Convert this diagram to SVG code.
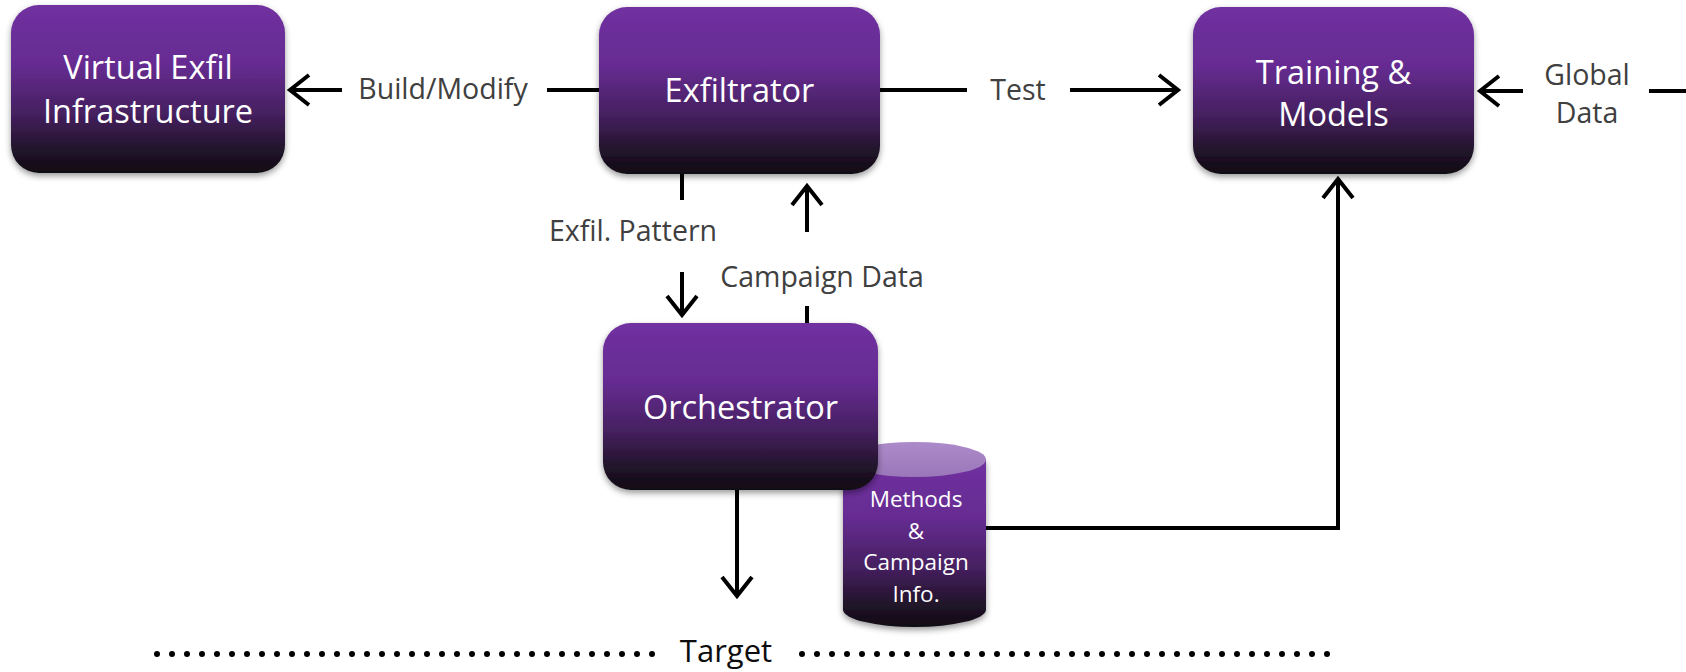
<svg xmlns="http://www.w3.org/2000/svg" width="1686" height="672" viewBox="0 0 1686 672">
  <defs>
    <linearGradient id="boxFill" x1="0" y1="0" x2="0" y2="1">
      <stop offset="0" stop-color="#7030a0"/>
      <stop offset="0.35" stop-color="#662c92"/>
      <stop offset="0.65" stop-color="#45205f"/>
      <stop offset="0.85" stop-color="#23142d"/>
      <stop offset="1" stop-color="#100c12"/>
    </linearGradient>
    <linearGradient id="capFill" x1="0" y1="0" x2="0" y2="1">
      <stop offset="0" stop-color="#ad8aca"/>
      <stop offset="1" stop-color="#9a77b8"/>
    </linearGradient>
    <filter id="shadow" x="-10%" y="-10%" width="120%" height="130%">
      <feDropShadow dx="0" dy="3" stdDeviation="3" flood-color="#000" flood-opacity="0.4"/>
    </filter>
    <marker id="chev" markerUnits="userSpaceOnUse" viewBox="-24 -18 28 36" markerWidth="28" markerHeight="36" refX="0" refY="0" orient="auto" overflow="visible">
      <path d="M -19 -15 L 0 0 L -19 15" fill="none" stroke="#000" stroke-width="4"/>
    </marker>
    <style>
      .box { fill: url(#boxFill); filter: url(#shadow); }
      .boxText { font-family: "Open Sans", "Liberation Sans", sans-serif; font-size: 32.5px; fill: #ffffff; text-anchor: middle; }
      .dbText { font-family: "Open Sans", "Liberation Sans", sans-serif; font-size: 22.5px; fill: #ffffff; text-anchor: middle; }
      .label { font-family: "Open Sans", "Liberation Sans", sans-serif; font-size: 28.5px; fill: #404040; text-anchor: middle; }
      .target { font-family: "Open Sans", "Liberation Sans", sans-serif; font-size: 31px; fill: #0d0d0d; text-anchor: middle; }
      .conn { fill: none; stroke: #000; stroke-width: 4; }
      .dots { fill: none; stroke: #000; stroke-width: 6; stroke-linecap: round; stroke-dasharray: 0 15; }
    </style>
  </defs>

  <!-- connectors -->
  <g id="connectors">
    <path class="conn" d="M 342 90 H 290" marker-end="url(#chev)"/>
    <path class="conn" d="M 547 90 H 599"/>
    <path class="conn" d="M 880 90 H 967"/>
    <path class="conn" d="M 1070 90 H 1178" marker-end="url(#chev)"/>
    <path class="conn" d="M 1523 91 H 1480" marker-end="url(#chev)"/>
    <path class="conn" d="M 1649 91 H 1686"/>
    <path class="conn" d="M 682 174 V 200"/>
    <path class="conn" d="M 682 272 V 315" marker-end="url(#chev)"/>
    <path class="conn" d="M 807 232 V 186" marker-end="url(#chev)"/>
    <path class="conn" d="M 807 306 V 323"/>
    <path class="conn" d="M 737 490 V 596" marker-end="url(#chev)"/>
    <path class="conn" d="M 986 528 H 1338 V 179" marker-end="url(#chev)"/>
  </g>

  <!-- connector labels -->
  <g id="labels">
    <text class="label" x="443" y="99">Build/Modify</text>
    <text class="label" x="1018" y="100">Test</text>
    <text class="label" x="1587" y="85">Global</text>
    <text class="label" x="1587" y="123">Data</text>
    <text class="label" x="633" y="241">Exfil. Pattern</text>
    <text class="label" x="822" y="287">Campaign Data</text>
  </g>

  <!-- target boundary -->
  <g id="target">
    <path class="dots" d="M 157 654 H 653"/>
    <path class="dots" d="M 802 654 H 1334"/>
    <text class="target" x="726" y="662">Target</text>
  </g>

  <g id="virtual-exfil">
    <rect class="box" x="11" y="5" width="274" height="168" rx="28"/>
    <text class="boxText" x="148" y="79">Virtual Exfil</text>
    <text class="boxText" x="148" y="123">Infrastructure</text>
  </g>

  <g id="exfiltrator">
    <rect class="box" x="599" y="7" width="281" height="167" rx="28"/>
    <text class="boxText" x="739.5" y="102">Exfiltrator</text>
  </g>

  <g id="training-models">
    <rect class="box" x="1193" y="7" width="281" height="167" rx="28"/>
    <text class="boxText" x="1333.5" y="84">Training &amp;</text>
    <text class="boxText" x="1333.5" y="126">Models</text>
  </g>

  <!-- data store sits behind the orchestrator -->
  <g id="methods-db">
    <path d="M 843 459.5 V 609.5 A 71.5 17.5 0 0 0 986 609.5 V 459.5 Z" fill="url(#boxFill)" filter="url(#shadow)"/>
    <ellipse cx="914.5" cy="459.5" rx="71.5" ry="17.5" fill="url(#capFill)"/>
    <text class="dbText" x="916" y="507">Methods</text>
    <text class="dbText" x="916" y="538.5">&amp;</text>
    <text class="dbText" x="916" y="570">Campaign</text>
    <text class="dbText" x="916" y="601.5">Info.</text>
  </g>

  <g id="orchestrator">
    <rect class="box" x="603" y="323" width="275" height="167" rx="28"/>
    <text class="boxText" x="740.5" y="419">Orchestrator</text>
  </g>
</svg>
